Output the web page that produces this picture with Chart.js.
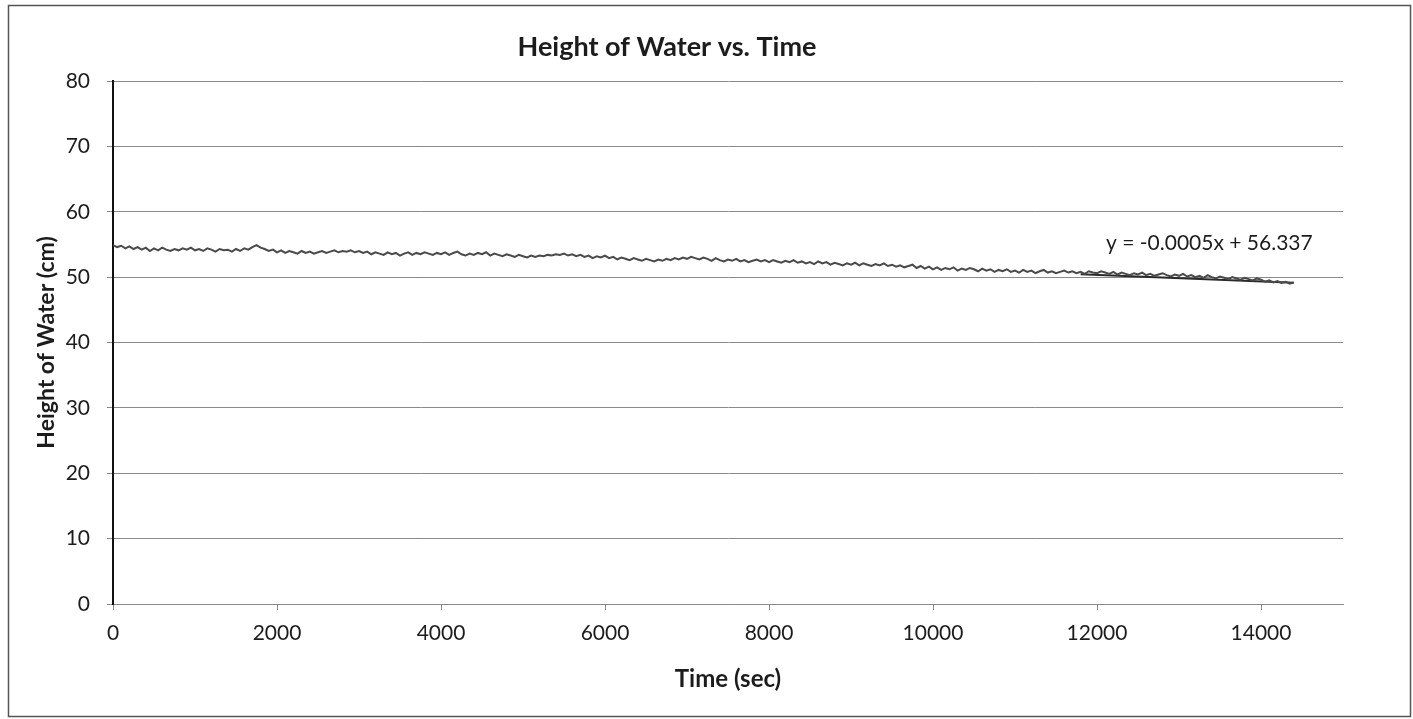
<!DOCTYPE html>
<html>
<head>
<meta charset="utf-8">
<title>Height of Water vs. Time</title>
<script src="https://cdn.jsdelivr.net/npm/chart.js@4.4.1/dist/chart.umd.min.js"></script>
<style>
  html, body { margin: 0; padding: 0; background: #ffffff; }
  #wrap { width: 1413px; height: 719px; position: relative; }
</style>
</head>
<body>
<div id="wrap"><canvas id="chart" width="1413" height="719"></canvas></div>
<script>
// Water height readings, one every 50 s from 0 s to 14400 s
const sampleStepSec = 50;
const heightCm = [
  54.9, 54.6, 54.8, 54.4, 54.7, 54.3, 54.6, 54.2, 54.5, 54.0, 54.4, 54.1, 54.5, 54.2, 54.0, 54.3, 54.1, 54.4, 54.2, 54.5,
  54.1, 54.3, 54.0, 54.4, 54.2, 53.9, 54.3, 54.1, 54.2, 53.9, 54.3, 54.0, 54.4, 54.2, 54.6, 54.9, 54.5, 54.3, 54.0, 54.2,
  53.8, 54.1, 53.7, 54.0, 53.8, 53.6, 54.0, 53.7, 53.9, 53.6, 53.8, 54.0, 53.7, 53.9, 54.1, 53.8, 54.0, 53.9, 54.1, 53.8,
  54.0, 53.7, 53.9, 53.5, 53.8, 53.6, 53.4, 53.8, 53.5, 53.7, 53.3, 53.6, 53.8, 53.4, 53.7, 53.5, 53.8, 53.6, 53.4, 53.7,
  53.5, 53.8, 53.4, 53.7, 53.9, 53.5, 53.3, 53.6, 53.4, 53.7, 53.5, 53.8, 53.3, 53.6, 53.4, 53.2, 53.5, 53.3, 53.1, 53.4,
  53.2, 53.0, 53.3, 53.1, 53.3, 53.2, 53.4, 53.3, 53.5, 53.4, 53.6, 53.3, 53.5, 53.2, 53.4, 53.1, 53.3, 52.9, 53.2, 53.0,
  53.3, 52.9, 53.1, 52.7, 53.0, 52.8, 52.6, 52.9, 52.7, 52.5, 52.8, 52.6, 52.4, 52.7, 52.5, 52.8, 52.6, 52.9, 52.7, 53.0,
  52.8, 53.1, 52.9, 52.7, 53.0, 52.8, 52.5, 52.9, 52.6, 52.4, 52.7, 52.5, 52.8, 52.4, 52.6, 52.3, 52.5, 52.7, 52.4, 52.6,
  52.3, 52.6, 52.4, 52.2, 52.5, 52.3, 52.6, 52.2, 52.4, 52.1, 52.3, 52.0, 52.4, 52.1, 52.3, 51.9, 52.2, 52.0, 51.8, 52.1,
  51.9, 52.2, 51.8, 52.1, 51.9, 51.7, 52.0, 51.8, 52.1, 51.7, 51.9, 51.6, 51.8, 51.5, 51.7, 51.9, 51.4, 51.7, 51.3, 51.6,
  51.2, 51.5, 51.1, 51.4, 51.2, 51.5, 51.0, 51.3, 51.1, 51.4, 51.2, 50.9, 51.3, 51.0, 51.2, 50.8, 51.1, 50.9, 51.2, 50.8,
  51.0, 50.7, 51.1, 50.8, 51.0, 50.6, 50.9, 51.1, 50.7, 50.9, 50.6, 50.8, 51.0, 50.7, 50.9, 50.6, 50.8, 50.5, 50.9, 50.7,
  50.6, 50.9, 50.7, 50.5, 50.8, 50.4, 50.7, 50.5, 50.3, 50.6, 50.4, 50.7, 50.3, 50.5, 50.2, 50.4, 50.6, 50.3, 50.1, 50.4,
  50.2, 50.5, 50.1, 50.3, 50.0, 50.2, 49.9, 50.3, 50.0, 49.8, 50.1, 49.9, 49.7, 50.0, 49.8, 49.6, 49.9, 49.7, 49.5, 49.8,
  49.6, 49.3, 49.5, 49.2, 49.4, 49.1, 49.3, 49.0, 49.2
];
const timeSec = heightCm.map((_, i) => i * sampleStepSec);

// Linear trendline as printed on the chart
const trendSlope = -0.0005;
const trendIntercept = 56.337;
const trendLabel = 'y = -0.0005x + 56.337';
const trendSpanSec = [11800, 14400];

// Axis ticks
const xTickValues = [0, 2000, 4000, 6000, 8000, 10000, 12000, 14000];
const yTickValues = [0, 10, 20, 30, 40, 50, 60, 70, 80];

const chartTitle = 'Height of Water vs. Time';
const xAxisTitle = 'Time (sec)';
const yAxisTitle = 'Height of Water (cm)';

const waterPoints = timeSec.map((t, i) => ({ x: t, y: heightCm[i] }));
const trendPoints = trendSpanSec.map(t => ({ x: t, y: trendSlope * t + trendIntercept }));

const FONT = 'Lato, "Open Sans", "Liberation Sans", sans-serif';
const INK = '#1c1c1c';
const GRID = '#8a8a8a';

// Frame, title and trendline equation
const decorations = {
  id: 'decorations',
  beforeDraw(chart) {
    const c = chart.ctx;
    c.save();
    c.fillStyle = '#ffffff';
    c.fillRect(0, 0, chart.width, chart.height);
    c.strokeStyle = '#555555';
    c.lineWidth = 1.5;
    c.strokeRect(8.5, 5.5, 1402, 711);
    c.restore();
  },
  afterDraw(chart) {
    const c = chart.ctx;
    const xs = chart.scales.x, ys = chart.scales.y;
    c.save();
    c.fillStyle = INK;
    c.textAlign = 'center';
    c.textBaseline = 'middle';
    c.font = 'bold 27px ' + FONT;
    c.fillText(chartTitle, 667, 47);
    c.font = '21px ' + FONT;
    c.textAlign = 'left';
    c.fillText(trendLabel, xs.getPixelForValue(12110), ys.getPixelForValue(55.2));
    c.restore();
  }
};

new Chart(document.getElementById('chart'), {
  type: 'line',
  data: {
    datasets: [
      {
        label: 'Height of Water',
        data: waterPoints,
        borderColor: '#4a4a4a',
        borderWidth: 2,
        pointRadius: 0,
        tension: 0,
        fill: false
      },
      {
        label: 'Linear trend',
        data: trendPoints,
        borderColor: '#2a2a2a',
        borderWidth: 2,
        pointRadius: 0,
        tension: 0,
        fill: false
      }
    ]
  },
  options: {
    responsive: false,
    animation: false,
    layout: { padding: { left: 0, right: 70, top: 81, bottom: 0 } },
    plugins: {
      legend: { display: false },
      title: { display: false },
      tooltip: { enabled: false }
    },
    scales: {
      x: {
        type: 'linear',
        min: 0,
        max: 15000,
        afterBuildTicks(axis) { axis.ticks = xTickValues.map(v => ({ value: v })); },
        afterFit(axis) { axis.height = 115; },
        grid: { drawOnChartArea: false, drawTicks: true, tickLength: 6, color: GRID, lineWidth: 1 },
        border: { display: true, color: GRID, width: 1 },
        ticks: {
          autoSkip: false, maxRotation: 0, minRotation: 0, padding: 11,
          color: INK, font: { family: FONT, size: 21 },
          callback: v => String(v)
        },
        title: {
          display: true, text: xAxisTitle, color: INK,
          font: { family: FONT, size: 24, weight: 'bold' },
          padding: { top: 0, bottom: 25 }
        }
      },
      y: {
        min: 0,
        max: 80,
        afterBuildTicks(axis) { axis.ticks = yTickValues.map(v => ({ value: v })); },
        afterFit(axis) { axis.width = 113; },
        grid: { drawOnChartArea: true, drawTicks: true, tickLength: 6, color: GRID, lineWidth: 1 },
        border: { display: true, color: '#111111', width: 2 },
        ticks: {
          padding: 17, color: INK, font: { family: FONT, size: 21 },
          callback: v => String(v)
        },
        title: {
          display: true, text: yAxisTitle, color: INK,
          font: { family: FONT, size: 23, weight: 'bold' },
          padding: { top: 33, bottom: 0 }
        }
      }
    }
  },
  plugins: [decorations]
});
</script>
</body>
</html>
